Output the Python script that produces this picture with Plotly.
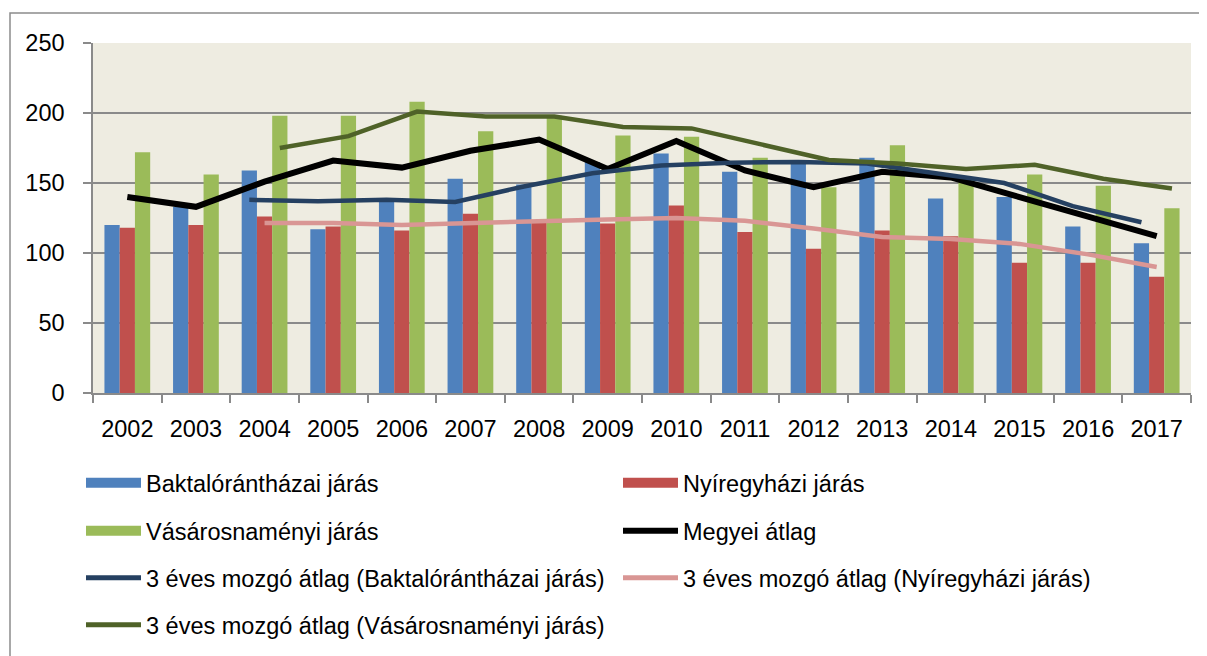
import plotly.graph_objects as go

# ---------------- data ----------------
years = ["2002", "2003", "2004", "2005", "2006", "2007", "2008", "2009",
         "2010", "2011", "2012", "2013", "2014", "2015", "2016", "2017"]

bakt = [120, 133, 159, 117, 138, 153, 149, 165, 171, 158, 164, 168, 139, 140, 119, 107]
nyir = [118, 120, 126, 119, 116, 128, 122, 121, 134, 115, 103, 116, 112, 93, 93, 83]
vasar = [172, 156, 198, 198, 208, 187, 198, 184, 183, 168, 147, 177, 153, 156, 148, 132]
megyei = [140, 133, 151, 166, 161, 173, 181, 160, 180, 159, 147, 158, 154, 140, 127, 112]

ma_years = years[2:]
ma_bakt = [138, 137, 138, 136.5, 147.5, 157, 162.5, 164.5, 165, 164, 157, 150, 133.5, 122]
ma_nyir = [121.5, 121.5, 120, 121.5, 122.5, 124, 125, 123, 117.5, 111.5, 110, 106.5, 99, 90]
ma_vasar = [175, 183.5, 201, 197.5, 197.5, 190, 189, 178, 166.5, 164, 160, 163, 153, 146]

names = ["Baktalórántházai járás", "Nyíregyházi járás", "Vásárosnaményi járás",
         "Megyei átlag",
         "3 éves mozgó átlag (Baktalórántházai járás)",
         "3 éves mozgó átlag (Nyíregyházi járás)",
         "3 éves mozgó átlag (Vásárosnaményi járás)"]

# ---------------- styles ----------------
C_BLUE, C_RED, C_GREEN = "#4F81BD", "#C0504D", "#9BBB59"
C_BLACK, C_NAVY, C_PINK, C_OLIVE = "#000000", "#254061", "#D99694", "#4F6228"
FONT = "Liberation Sans, Arial, sans-serif"
FS = 23.5
GRID = "#8A8A8A"

BARGAP = 1 / 3
bar_w = (1 - BARGAP) / 3

OFF = 8  # page body margin offset
W, H = 1207, 656
# plot area in page pixels: x 93..1191, y 43..393
PX0, PX1, PY0, PY1 = 93 - OFF, 1191 - OFF, 43 - OFF, 393 - OFF
ML, MR, MT, MB = PX0, W - PX1, PY0, H - PY1
PW, PH = PX1 - PX0, PY1 - PY0


def px_x(p):  # page pixel -> paper
    return (p - OFF - PX0) / PW


def px_y(p):
    return (PY1 - (p - OFF)) / PH


pos = {y: i for i, y in enumerate(years)}
x_cat = [pos[y] for y in years]
x_ma = [pos[y] for y in ma_years]

fig = go.Figure()

for vals, col, nm in [(bakt, C_BLUE, names[0]), (nyir, C_RED, names[1]), (vasar, C_GREEN, names[2])]:
    fig.add_trace(go.Bar(x=x_cat, y=vals, name=nm, marker=dict(color=col, line=dict(width=0)),
                         showlegend=False))

fig.add_trace(go.Scatter(x=x_cat, y=megyei, mode="lines", name=names[3],
                         line=dict(color=C_BLACK, width=6), showlegend=False))
fig.add_trace(go.Scatter(x=[v - bar_w for v in x_ma], y=ma_bakt, mode="lines", name=names[4],
                         line=dict(color=C_NAVY, width=4.5), showlegend=False))
fig.add_trace(go.Scatter(x=x_ma, y=ma_nyir, mode="lines", name=names[5],
                         line=dict(color=C_PINK, width=4.5), showlegend=False))
fig.add_trace(go.Scatter(x=[v + bar_w for v in x_ma], y=ma_vasar, mode="lines", name=names[6],
                         line=dict(color=C_OLIVE, width=4.5), showlegend=False))

leg_items = [
    (names[0], C_BLUE, 14, "legend"), (names[1], C_RED, 14, "legend"),
    (names[2], C_GREEN, 14, "legend2"), (names[3], C_BLACK, 6, "legend2"),
    (names[4], C_NAVY, 5, "legend3"), (names[5], C_PINK, 5, "legend3"),
    (names[6], C_OLIVE, 5, "legend4"),
]
for nm, col, lw, lg in leg_items:
    fig.add_trace(go.Scatter(x=[None], y=[None], mode="lines", name=nm,
                             line=dict(color=col, width=lw), legend=lg, hoverinfo="skip"))

leg_common = dict(orientation="h", entrywidth=467, entrywidthmode="pixels", itemwidth=55,
                  xanchor="left", yanchor="middle", bgcolor="rgba(0,0,0,0)",
                  font=dict(family=FONT, size=FS, color="black"), traceorder="normal")
leg_x = px_x(81)
row_y = [483, 531, 578, 625]

fig.update_layout(
    width=W, height=H, autosize=False,
    margin=dict(l=ML, r=MR, t=MT, b=MB),
    paper_bgcolor="white", plot_bgcolor="#EEECE1",
    barmode="group", bargap=BARGAP, bargroupgap=0,
    font=dict(family=FONT, size=FS, color="black"),
    legend=dict(x=leg_x, y=px_y(row_y[0]), **leg_common),
    legend2=dict(x=leg_x, y=px_y(row_y[1]), **leg_common),
    legend3=dict(x=leg_x, y=px_y(row_y[2]), **leg_common),
    legend4=dict(x=leg_x, y=px_y(row_y[3]), **leg_common),
    xaxis=dict(range=[-0.5, len(years) - 0.5], tickmode="array", tickvals=x_cat, ticktext=years,
               ticks="", showgrid=False, zeroline=False, showline=True, linecolor=GRID, linewidth=1.5,
               ticklabelstandoff=14, tickfont=dict(family=FONT, size=FS, color="black"),
               minor=dict(tickmode="array", tickvals=[i - 0.5 for i in range(len(years) + 1)],
                          ticks="outside", ticklen=8, tickwidth=1.5, tickcolor=GRID, showgrid=False)),
    yaxis=dict(range=[0, 250], dtick=50, tick0=0, ticks="outside", ticklen=8, tickwidth=1.5,
               tickcolor=GRID, showgrid=True, gridcolor=GRID, gridwidth=1.5, zeroline=False,
               showline=True, linecolor=GRID, linewidth=1.5, ticklabelstandoff=14,
               tickfont=dict(family=FONT, size=FS, color="black")),
    shapes=[dict(type="rect", xref="paper", yref="paper",
                 x0=px_x(10), x1=px_x(1225), y0=px_y(675), y1=px_y(13),
                 line=dict(color="#8C8C8C", width=1.5), fillcolor="rgba(0,0,0,0)", layer="below")],
    showlegend=True,
)

fig.write_html("out.html")
